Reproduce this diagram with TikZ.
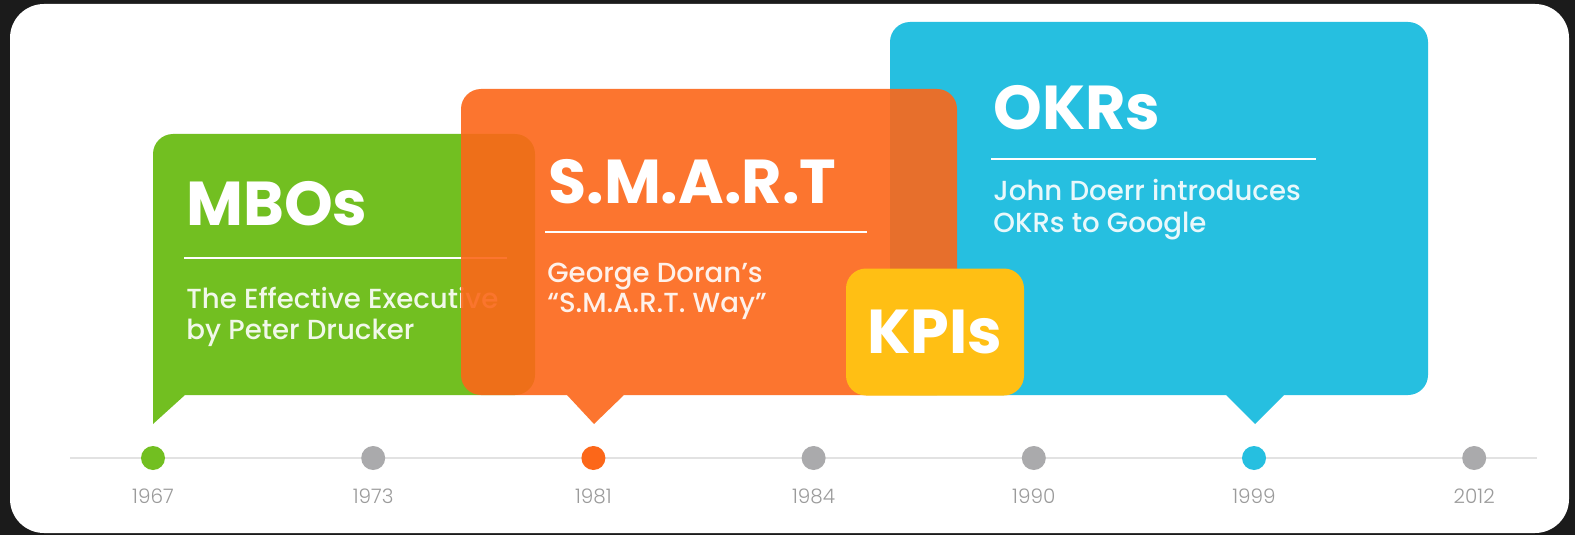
\documentclass[tikz,border=0pt]{standalone}
\usepackage{fontspec}
\setmainfont{Poppins}
\newfontfamily\subfont{Poppins Medium}
\newfontfamily\yearfont{Poppins Light}
\usetikzlibrary{positioning}

\definecolor{mbogreen}{RGB}{114,191,33}
\definecolor{smartorange}{RGB}{252,103,25}
\definecolor{okrblue}{RGB}{38,191,224}
\definecolor{kpiyellow}{RGB}{255,191,20}
\definecolor{dotgray}{RGB}{170,170,172}
\definecolor{linegray}{RGB}{226,226,226}
\definecolor{yeargray}{RGB}{155,155,155}
\definecolor{darkbg}{RGB}{27,27,27}

\begin{document}
\begin{tikzpicture}[
    x=0.5pt, y=-0.5pt,
    title/.style={anchor=base west, inner sep=0pt, text=white, font=\fontsize{31}{31}\selectfont\bfseries},
    sub/.style={anchor=base west, inner sep=0pt, text=white, text opacity=0.9, font=\subfont\fontsize{13.8}{16}\selectfont},
    rule/.style={white, line width=1.2pt},
    kpibox/.style={rectangle, fill=kpiyellow, rounded corners=10pt, minimum width=89pt, minimum height=63.5pt, text=white, font=\fontsize{31}{31}\selectfont\bfseries},
    dot/.style={circle, minimum size=12pt, inner sep=0pt},
    year/.style={inner sep=0pt, text=yeargray, font=\yearfont\fontsize{10}{12}\selectfont}
]

% Background and card
\fill[darkbg] (0,0) rectangle (1575,535);
\fill[white, rounded corners=17pt] (10,4) rectangle (1569,533);
\useasboundingbox (0,0) rectangle (1575,535);

% MBOs bubble
\fill[mbogreen] (153,424) -- (153,300) [rounded corners=10pt] -- (153,134) -- (535,134) -- (535,395) -- (210,395) [sharp corners] -- (185,395) -- cycle;
\node [title] (mbo) at (186,226) {MBOs};
\coordinate (mborule a) at (184,258);
\coordinate (mborule b) at (507,258);
\draw [rule] (mborule a) -- (mborule b);
\node [sub] (mbo1) at (186,308) {The Effective Executive};
\node [sub] (mbo2) at (186,339) {by Peter Drucker};

% OKRs bubble
\fill[okrblue] (1255,424) -- (1226,395) -- (1200,395) [rounded corners=10pt] -- (890,395) -- (890,22) -- (1428,22) -- (1428,395) -- (1310,395) [sharp corners] -- (1284,395) -- cycle;
\node [title] (okr) at (993,130) {OKRs};
\coordinate (okrrule a) at (991,159);
\coordinate (okrrule b) at (1316,159);
\draw [rule] (okrrule a) -- (okrrule b);
\node [sub] (okr1) at (993,200) {John Doerr introduces};
\node [sub] (okr2) at (993,233) {OKRs to Google};

% S.M.A.R.T bubble (see-through)
\fill[smartorange, opacity=0.9] (594,424) -- (567,395) -- (540,395) [rounded corners=10pt] -- (461,395) -- (461,89) -- (957,89) -- (957,395) -- (650,395) [sharp corners] -- (624,395) -- cycle;
\node [title] (smart) at (548,204) {S.M.A.R.T};
\coordinate (smartrule a) at (545,232);
\coordinate (smartrule b) at (867,232);
\draw [rule] (smartrule a) -- (smartrule b);
\node [sub] (smart1) at (547,282) {George Doran’s};
\node [sub] (smart2) at (547,312) {“S.M.A.R.T. Way”};

% KPIs box
\node [kpibox] (kpi) at (935,332) {KPIs};

% Timeline
\coordinate (tl start) at (70,458);
\coordinate (tl end) at (1537,458);
\draw [linegray, line width=1pt] (tl start) -- (tl end);
\foreach \yr/\col [count=\i from 0] in {1967/mbogreen, 1973/dotgray, 1981/smartorange, 1984/dotgray, 1990/dotgray, 1999/okrblue, 2012/dotgray} {
    \node [dot, fill=\col] (d\yr) at (153+220.2*\i,458) {};
    \node [year, below=9pt of d\yr] (y\yr) {\yr};
}

\end{tikzpicture}
\end{document}
